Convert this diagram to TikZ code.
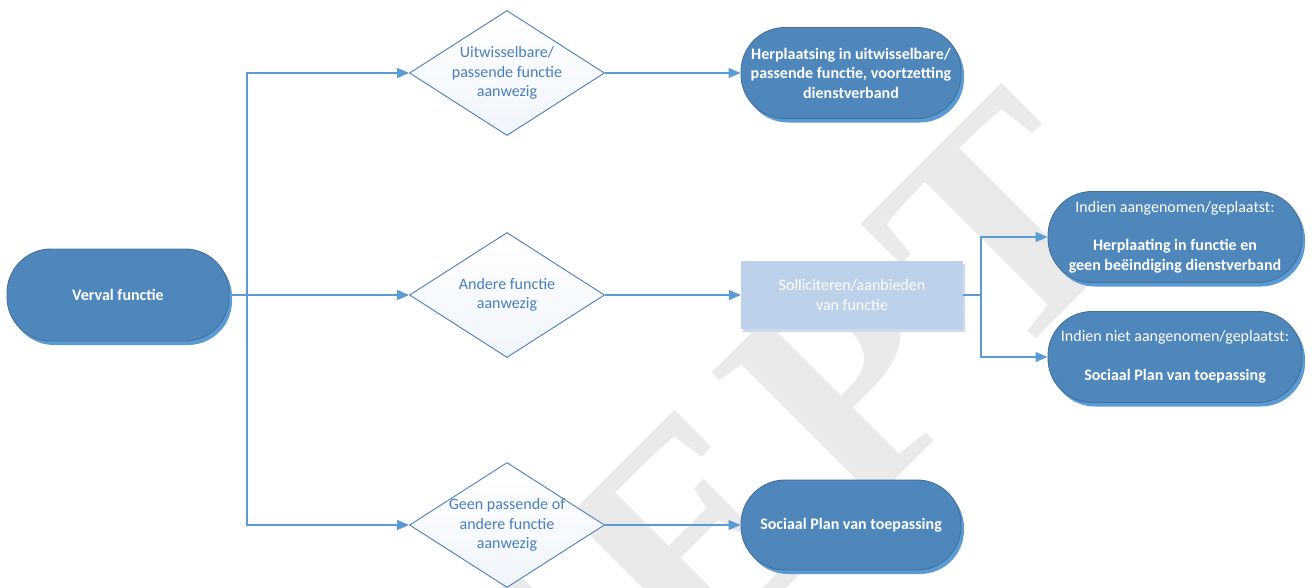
\documentclass[tikz,border=0pt]{standalone}
\usepackage{fontspec}
\setmainfont{Carlito}
\newfontfamily\wmfont[LetterSpace=6]{Liberation Serif}
\usetikzlibrary{arrows.meta,shapes.geometric,shadows,calc}
\definecolor{termfill}{RGB}{79,135,188}
\definecolor{termdraw}{RGB}{65,113,156}
\definecolor{termshadow}{RGB}{91,155,213}
\definecolor{linecol}{RGB}{91,155,213}
\definecolor{diacol}{RGB}{74,126,187}
\definecolor{diafill}{RGB}{240,245,251}
\definecolor{solfill}{RGB}{189,209,234}
\definecolor{solshadow}{RGB}{204,218,238}
\definecolor{wmgray}{RGB}{234,234,234}
\begin{document}
\begin{tikzpicture}[x=1pt,y=-1pt,
  every node/.style={font=\fontsize{16}{19.5}\selectfont},
  term/.style={rounded corners=44pt, fill=termfill, draw=termdraw, line width=0.9pt,
    text=white, align=center, inner sep=0pt,
    drop shadow={shadow xshift=3pt, shadow yshift=-4pt, fill=termshadow, opacity=1}},
  dia/.style={diamond, draw=diacol, line width=0.9pt, top color=white, bottom color=diafill,
    minimum width=195pt, minimum height=125pt, inner sep=0pt},
  diatext/.style={text=diacol, align=center, inner sep=0pt},
  solbox/.style={rectangle, fill=solfill, text=white, align=center, inner sep=0pt,
    minimum width=222pt, minimum height=68pt,
    drop shadow={shadow xshift=2pt, shadow yshift=-3pt, fill=solshadow, opacity=1}},
  conn/.style={draw=linecol, line width=1.4pt, -{Triangle[length=12pt,width=10pt]}},
  plain/.style={draw=linecol, line width=1.4pt},
  wm/.style={text=wmgray, inner sep=0pt, rotate=45, anchor=base east,
    font=\fontsize{313}{320}\selectfont\wmfont\bfseries}
]
\useasboundingbox (0,0) rectangle (1314,587);
\fill[white] (0,0) rectangle (1314,587);
\begin{scope}
\clip (0,0) rectangle (1314,587);
\node[wm] (wmark) at (1150,225) {CONCEPT};
\end{scope}

% nodes
\node[term, minimum width=222pt, minimum height=92pt] (verval) at (118,295) {\textbf{Verval functie}};

\node[dia] (d1) at (507,73) {};
\node[diatext] (d1t) at (d1) {Uitwisselbare/\\passende functie\\aanwezig};
\node[dia] (d2) at (507,295) {};
\node[diatext] (d2t) at (d2) {Andere functie\\aanwezig};
\node[dia] (d3) at (507,525) {};
\node[diatext] (d3t) at (d3) {Geen passende of\\andere functie\\aanwezig};

\node[term, minimum width=220pt, minimum height=91pt] (herp) at (851,73)
  {\textbf{Herplaatsing in uitwisselbare/}\\\textbf{passende functie, voortzetting}\\\textbf{dienstverband}};
\node[solbox] (sol) at (852,295) {Solliciteren/aanbieden\\van functie};
\node[term, minimum width=220pt, minimum height=90pt] (soc) at (851,525)
  {\textbf{Sociaal Plan van toepassing}};

\node[term, minimum width=254pt, minimum height=91pt] (ind1) at (1175,237)
  {Indien aangenomen/geplaatst:\\[19pt]\textbf{Herplaating in functie en}\\\textbf{geen beëindiging dienstverband}};
\node[term, minimum width=254pt, minimum height=91pt] (ind2) at (1175,357)
  {Indien niet aangenomen/geplaatst:\\[19pt]\textbf{Sociaal Plan van toepassing}};

% connectors
\coordinate (br1) at (247,295);
\coordinate (br2) at (981,295);
\draw[conn] (verval.east) -- (d2.west);
\draw[conn] (br1) |- (d1.west);
\draw[conn] (br1) |- (d3.west);
\draw[conn] (d1.east) -- (d1.east -| herp.west);
\draw[conn] (d2.east) -- (d2.east -| sol.west);
\draw[conn] (d3.east) -- (d3.east -| soc.west);
\draw[plain] (sol.east) -- (br2);
\draw[conn] (br2) |- (ind1.west);
\draw[conn] (br2) |- (ind2.west);
\end{tikzpicture}
\end{document}
